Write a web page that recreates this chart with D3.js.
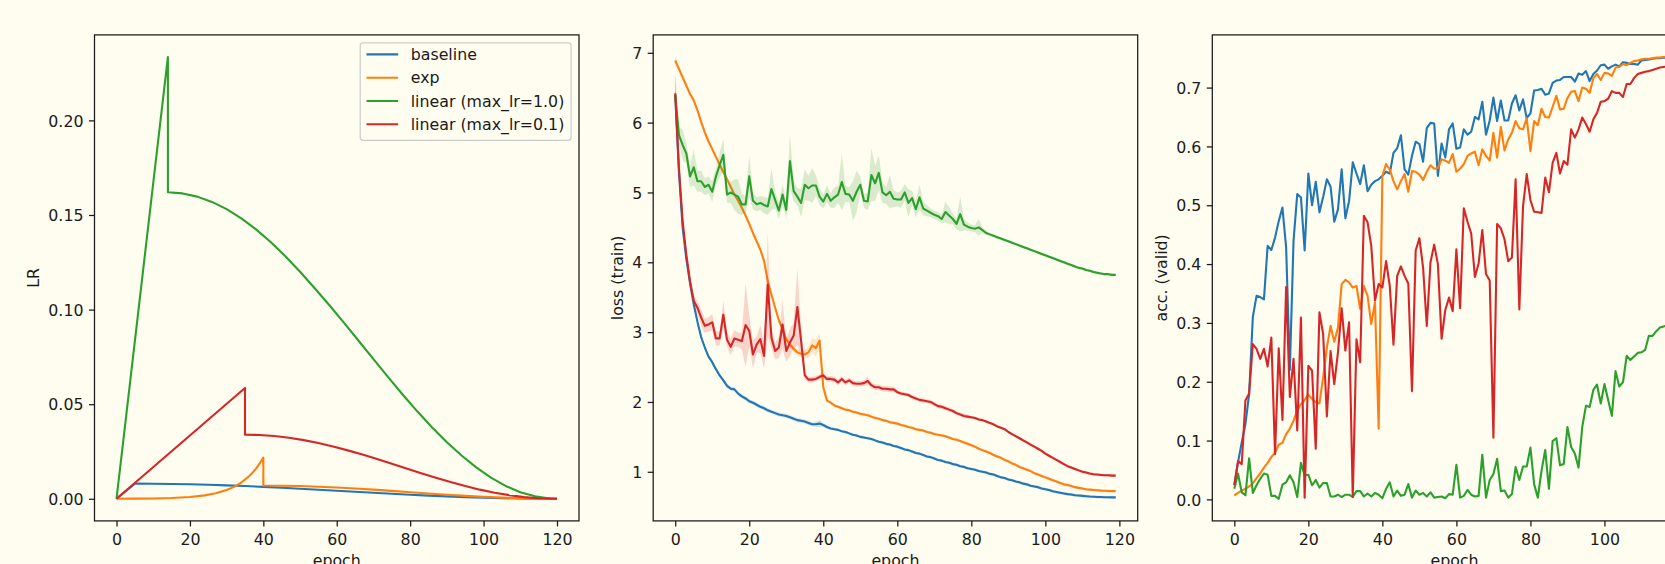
<!DOCTYPE html>
<html>
<head>
<meta charset="utf-8">
<script src="https://cdn.jsdelivr.net/npm/d3@7"></script>
<style>
  html, body { margin: 0; padding: 0; background: #fffcf0; }
  svg { display: block; }
</style>
</head>
<body>
<svg id="fig" width="1665" height="564"></svg>
<script>
// ---------------- data ----------------
const seriesNames  = ["baseline", "exp", "linear (max_lr=1.0)", "linear (max_lr=0.1)"];
const seriesColors = ["#1f77b4", "#ff7f0e", "#2ca02c", "#d62728"];

const xTickValues    = [0, 20, 40, 60, 80, 100, 120];
const lrTickValues   = [0.00, 0.05, 0.10, 0.15, 0.20];
const lossTickValues = [1, 2, 3, 4, 5, 6, 7];
const accTickValues  = [0.0, 0.1, 0.2, 0.3, 0.4, 0.5, 0.6, 0.7];

// learning-rate schedules (epoch, lr)
const lrBaselineEpochs = [0,5,10,15,20,25,30,35,40,45,50,55,60,65,70,75,80,85,90,95,100,105,110,115,120];
const lrBaseline = [0,0.0080,0.00796,0.00785,0.00767,0.00742,0.00710,0.00673,0.00631,0.00584,0.00534,0.00481,0.00427,0.00373,0.00319,0.00266,0.00216,0.00169,0.00127,0.00090,0.00058,0.00033,0.00015,0.00004,0];

const lrExpEpochs = [0,5,10,15,20,24,27,30,32,34,36,37,38,39,40,40,45,50,55,60,65,70,75,80,85,90,95,100,105,110,115,120];
const lrExp = [0,0.0001,0.0002,0.00045,0.00098,0.00183,0.00291,0.00463,0.00631,0.0086,0.01173,0.01369,0.01599,0.01867,0.0218,0.0070,0.00689,0.00673,0.00641,0.00597,0.00543,0.00484,0.00419,0.0035,0.00283,0.00216,0.00156,0.00103,0.00061,0.00027,0.00009,0];

const lrLinear1Epochs = [0,14,14,18,22,26,30,34,38,42,46,50,54,58,62,66,70,74,78,82,86,90,94,98,102,106,110,114,118,120];
const lrLinear1 = [0,0.2335,0.1620,0.1614,0.1597,0.1569,0.1531,0.1482,0.1424,0.1357,0.1282,0.1200,0.1113,0.1023,0.0930,0.0834,0.0738,0.0643,0.0550,0.0461,0.0377,0.0299,0.0229,0.0166,0.0112,0.0068,0.0035,0.0013,0.0001,0];

const lrLinear01Epochs = [0,35,35,39,43,47,51,55,59,63,67,71,75,79,83,87,91,95,99,103,107,111,115,120];
const lrLinear01 = [0,0.0586,0.0339,0.03372,0.03316,0.03226,0.03102,0.02948,0.02766,0.02560,0.02336,0.02098,0.01851,0.01601,0.01353,0.01112,0.00883,0.00673,0.00484,0.00323,0.00193,0.00091,0.00029,0];

// training loss per epoch (mean over runs) and its spread
const lossBaseline = [
  6.40,5.30,4.50,4.05,3.70,3.40,3.15,2.93,2.78,2.65,
  2.57,2.47,2.38,2.31,2.23,2.19,2.18,2.12,2.08,2.05,
  2.01,1.99,1.96,1.93,1.91,1.88,1.86,1.84,1.82,1.81,
  1.80,1.78,1.76,1.74,1.73,1.72,1.70,1.68,1.68,1.69,
  1.67,1.64,1.62,1.61,1.60,1.58,1.57,1.55,1.53,1.52,
  1.50,1.49,1.48,1.47,1.45,1.43,1.42,1.40,1.39,1.37,
  1.36,1.34,1.32,1.31,1.29,1.27,1.26,1.24,1.22,1.21,
  1.19,1.17,1.16,1.14,1.13,1.11,1.10,1.08,1.07,1.05,
  1.04,1.03,1.01,1.00,0.99,0.97,0.96,0.94,0.92,0.91,
  0.89,0.88,0.86,0.85,0.83,0.82,0.80,0.79,0.78,0.76,
  0.75,0.74,0.72,0.71,0.70,0.69,0.68,0.675,0.665,0.66,
  0.655,0.65,0.645,0.643,0.64,0.638,0.636,0.635,0.634,0.633
];
const lossExp = [
  6.89,6.77,6.65,6.53,6.41,6.32,6.18,6.01,5.86,5.73,
  5.62,5.51,5.40,5.29,5.19,5.08,4.97,4.88,4.78,4.67,
  4.55,4.42,4.30,4.18,4.02,3.73,3.54,3.35,3.17,3.04,
  2.90,2.82,2.76,2.71,2.69,2.68,2.71,2.81,2.77,2.88,
  2.21,2.02,1.99,1.95,1.93,1.91,1.89,1.88,1.86,1.85,
  1.83,1.82,1.81,1.79,1.77,1.76,1.74,1.73,1.71,1.70,
  1.69,1.67,1.66,1.64,1.63,1.61,1.60,1.59,1.57,1.56,
  1.54,1.53,1.52,1.51,1.49,1.47,1.46,1.44,1.42,1.40,
  1.38,1.36,1.33,1.31,1.29,1.27,1.24,1.22,1.20,1.17,
  1.15,1.12,1.10,1.07,1.05,1.03,1.01,0.98,0.96,0.94,
  0.92,0.90,0.88,0.86,0.84,0.82,0.81,0.795,0.78,0.77,
  0.76,0.75,0.745,0.74,0.735,0.73,0.728,0.725,0.724,0.723
];
const lossLinear1 = [
  6.40,5.82,5.68,5.56,5.23,5.36,5.16,5.16,5.08,5.11,
  5.01,5.23,5.39,5.54,4.97,5.00,4.97,4.94,4.83,4.83,
  5.23,4.88,4.83,4.85,4.82,4.80,5.05,4.89,4.74,4.97,
  4.75,5.45,5.02,4.94,4.85,5.11,5.06,5.10,5.10,4.94,
  4.87,4.98,4.88,4.93,4.97,5.15,4.98,4.97,4.88,5.01,
  5.11,4.88,4.87,5.25,5.13,5.28,5.00,4.96,5.01,4.91,
  4.90,4.90,5.00,4.85,4.92,4.76,4.93,4.77,4.74,4.71,
  4.68,4.66,4.62,4.72,4.67,4.62,4.55,4.69,4.54,4.51,
  4.49,4.48,4.50,4.46,4.42,4.40,4.38,4.36,4.34,4.32,
  4.30,4.28,4.26,4.24,4.22,4.20,4.18,4.16,4.14,4.12,
  4.10,4.08,4.06,4.04,4.02,4.00,3.98,3.96,3.94,3.92,
  3.91,3.89,3.88,3.86,3.85,3.84,3.83,3.83,3.82,3.82
];
const lossLinear01 = [
  6.42,5.35,4.59,4.11,3.73,3.45,3.35,3.21,3.09,3.11,
  3.14,2.91,2.91,3.25,2.89,2.79,2.91,2.89,2.87,3.10,
  3.02,2.68,2.82,2.90,2.66,3.68,2.92,2.73,2.78,3.11,
  2.73,2.85,2.95,3.36,2.88,2.38,2.32,2.32,2.33,2.36,
  2.38,2.33,2.33,2.32,2.28,2.33,2.28,2.31,2.27,2.26,
  2.26,2.27,2.30,2.24,2.21,2.21,2.19,2.19,2.18,2.18,
  2.14,2.12,2.11,2.10,2.07,2.05,2.03,2.02,2.01,2.00,
  1.97,1.94,1.93,1.91,1.89,1.87,1.84,1.82,1.80,1.79,
  1.78,1.77,1.75,1.74,1.72,1.70,1.68,1.65,1.63,1.61,
  1.57,1.54,1.51,1.48,1.45,1.42,1.39,1.36,1.33,1.30,
  1.26,1.23,1.20,1.17,1.14,1.11,1.08,1.06,1.04,1.02,
  1.00,0.99,0.975,0.965,0.96,0.955,0.95,0.95,0.945,0.945
];

const lossStdBaseline = [
  0.30,0.15,0.08,0.05,0.04,0.04,0.04,0.04,0.03,0.03,
  0.03,0.03,0.03,0.03,0.03,0.03,0.03,0.03,0.03,0.03,
  0.03,0.03,0.03,0.03,0.03,0.03,0.03,0.03,0.03,0.03,
  0.03,0.03,0.03,0.03,0.03,0.03,0.03,0.03,0.04,0.05,
  0.03,0.03,0.02,0.02,0.02,0.02,0.02,0.02,0.02,0.02,
  0.02,0.02,0.02,0.02,0.02,0.02,0.02,0.02,0.02,0.02,
  0.02,0.02,0.02,0.02,0.02,0.02,0.02,0.02,0.02,0.02,
  0.02,0.02,0.02,0.02,0.02,0.02,0.02,0.02,0.02,0.02,
  0.02,0.02,0.02,0.02,0.02,0.02,0.02,0.02,0.02,0.02,
  0.02,0.02,0.02,0.02,0.02,0.02,0.02,0.02,0.02,0.02,
  0.02,0.02,0.02,0.02,0.02,0.02,0.02,0.02,0.02,0.02,
  0.02,0.02,0.02,0.02,0.02,0.02,0.02,0.02,0.02,0.02
];
const lossStdExp = [
  0.05,0.03,0.03,0.03,0.03,0.03,0.03,0.03,0.03,0.03,
  0.03,0.03,0.03,0.03,0.03,0.03,0.03,0.03,0.03,0.03,
  0.03,0.03,0.03,0.03,0.03,0.03,0.03,0.03,0.03,0.03,
  0.03,0.03,0.04,0.04,0.05,0.06,0.08,0.10,0.12,0.10,
  0.08,0.03,0.02,0.02,0.02,0.02,0.02,0.02,0.02,0.02,
  0.02,0.02,0.02,0.02,0.02,0.02,0.02,0.02,0.02,0.02,
  0.02,0.02,0.02,0.02,0.02,0.02,0.02,0.02,0.02,0.02,
  0.02,0.02,0.02,0.02,0.02,0.02,0.02,0.02,0.02,0.02,
  0.02,0.02,0.02,0.02,0.02,0.02,0.02,0.02,0.02,0.02,
  0.02,0.02,0.02,0.02,0.02,0.02,0.02,0.02,0.02,0.02,
  0.02,0.02,0.02,0.02,0.02,0.02,0.02,0.02,0.02,0.02,
  0.02,0.02,0.02,0.02,0.02,0.02,0.02,0.02,0.02,0.02
];
const lossStdLinear1 = [
  0.30,0.12,0.22,0.15,0.15,0.26,0.15,0.15,0.12,0.12,
  0.15,0.12,0.18,0.23,0.12,0.15,0.22,0.25,0.15,0.12,
  0.30,0.12,0.10,0.10,0.12,0.12,0.30,0.12,0.12,0.15,
  0.12,0.38,0.15,0.12,0.20,0.22,0.18,0.25,0.15,0.12,
  0.10,0.12,0.10,0.15,0.12,0.40,0.12,0.10,0.28,0.30,
  0.12,0.10,0.12,0.38,0.25,0.25,0.15,0.12,0.24,0.12,
  0.10,0.12,0.12,0.20,0.10,0.12,0.18,0.10,0.08,0.06,
  0.06,0.06,0.06,0.15,0.12,0.08,0.08,0.25,0.08,0.06,
  0.05,0.05,0.12,0.04,0.03,0.02,0.02,0.02,0.02,0.02,
  0.02,0.02,0.02,0.02,0.02,0.02,0.02,0.02,0.02,0.02,
  0.02,0.02,0.02,0.02,0.02,0.02,0.02,0.02,0.02,0.02,
  0.02,0.02,0.02,0.02,0.02,0.02,0.02,0.02,0.02,0.02
];
const lossStdLinear01 = [
  0.30,0.15,0.08,0.06,0.06,0.08,0.10,0.12,0.10,0.10,
  0.12,0.10,0.10,0.20,0.10,0.12,0.12,0.10,0.12,0.60,
  0.22,0.20,0.12,0.20,0.18,0.75,0.15,0.12,0.15,0.35,
  0.15,0.20,0.18,0.55,0.20,0.06,0.04,0.04,0.04,0.04,
  0.04,0.04,0.04,0.04,0.04,0.04,0.04,0.04,0.04,0.04,
  0.04,0.04,0.06,0.04,0.04,0.04,0.04,0.04,0.04,0.04,
  0.03,0.03,0.03,0.03,0.03,0.03,0.03,0.03,0.03,0.03,
  0.03,0.03,0.03,0.03,0.03,0.03,0.03,0.03,0.03,0.03,
  0.02,0.02,0.02,0.02,0.02,0.02,0.02,0.02,0.02,0.02,
  0.02,0.02,0.02,0.02,0.02,0.02,0.02,0.02,0.02,0.02,
  0.02,0.02,0.02,0.02,0.02,0.02,0.02,0.02,0.02,0.02,
  0.02,0.02,0.02,0.02,0.02,0.02,0.02,0.02,0.02,0.02
];

// validation accuracy per epoch
const accBaseline = [
  0.024,0.063,0.097,0.128,0.179,0.310,0.346,0.344,0.340,0.431,
  0.424,0.445,0.473,0.496,0.428,0.220,0.440,0.519,0.513,0.423,
  0.554,0.500,0.540,0.488,0.514,0.544,0.532,0.472,0.493,0.561,
  0.478,0.507,0.573,0.554,0.536,0.568,0.524,0.535,0.541,0.544,
  0.550,0.557,0.554,0.589,0.597,0.619,0.561,0.552,0.584,0.608,
  0.604,0.574,0.631,0.640,0.639,0.550,0.605,0.581,0.629,0.639,
  0.596,0.598,0.629,0.620,0.625,0.650,0.646,0.676,0.620,0.644,
  0.683,0.643,0.678,0.644,0.644,0.673,0.687,0.661,0.680,0.648,
  0.656,0.695,0.696,0.698,0.688,0.690,0.708,0.712,0.713,0.718,
  0.718,0.718,0.710,0.724,0.722,0.728,0.711,0.723,0.729,0.738,
  0.739,0.732,0.736,0.739,0.736,0.743,0.742,0.740,0.740,0.739,
  0.746,0.747,0.748,0.749,0.750,0.750,0.751,0.751,0.752,0.752
];
const accExp = [
  0.007,0.011,0.015,0.018,0.022,0.027,0.036,0.044,0.054,0.062,
  0.072,0.079,0.093,0.096,0.111,0.120,0.134,0.151,0.162,0.169,
  0.178,0.171,0.165,0.163,0.208,0.258,0.295,0.268,0.292,0.366,
  0.373,0.369,0.360,0.363,0.324,0.363,0.346,0.298,0.335,0.120,
  0.550,0.570,0.561,0.541,0.527,0.541,0.553,0.523,0.558,0.557,
  0.552,0.543,0.557,0.568,0.562,0.563,0.578,0.576,0.572,0.587,
  0.557,0.562,0.570,0.584,0.588,0.591,0.568,0.595,0.584,0.576,
  0.623,0.581,0.633,0.593,0.612,0.623,0.643,0.631,0.629,0.648,
  0.592,0.643,0.636,0.664,0.650,0.649,0.667,0.686,0.663,0.664,
  0.682,0.693,0.694,0.677,0.700,0.698,0.691,0.716,0.723,0.713,
  0.725,0.724,0.720,0.734,0.735,0.740,0.738,0.742,0.745,0.746,
  0.748,0.749,0.749,0.750,0.751,0.751,0.752,0.752,0.752,0.752
];
const accLinear1 = [
  0.018,0.044,0.012,0.007,0.070,0.011,0.024,0.035,0.044,0.042,
  0.006,0.006,0.001,0.025,0.029,0.041,0.029,0.004,0.062,0.041,
  0.042,0.024,0.033,0.020,0.028,0.028,0.005,0.005,0.008,0.004,
  0.008,0.008,0.004,0.014,0.014,0.005,0.010,0.005,0.011,0.008,
  0.002,0.018,0.029,0.005,0.015,0.006,0.008,0.026,0.003,0.015,
  0.008,0.011,0.005,0.012,0.003,0.004,0.005,0.002,0.009,0.008,
  0.059,0.003,0.006,0.016,0.008,0.005,0.006,0.076,0.003,0.033,
  0.043,0.069,0.014,0.015,0.003,0.009,0.055,0.033,0.056,0.056,
  0.088,0.026,0.003,0.049,0.084,0.018,0.099,0.104,0.058,0.060,
  0.123,0.089,0.078,0.054,0.123,0.159,0.157,0.186,0.195,0.163,
  0.196,0.169,0.142,0.218,0.192,0.199,0.244,0.237,0.243,0.249,
  0.250,0.254,0.278,0.278,0.286,0.292,0.294,0.296,0.297,0.298
];
const accLinear01 = [
  0.024,0.065,0.060,0.168,0.180,0.264,0.256,0.239,0.256,0.226,
  0.275,0.077,0.257,0.135,0.361,0.174,0.239,0.117,0.309,0.003,
  0.227,0.219,0.086,0.318,0.281,0.141,0.252,0.196,0.250,0.325,
  0.253,0.301,0.004,0.272,0.233,0.482,0.471,0.431,0.338,0.366,
  0.360,0.405,0.363,0.263,0.380,0.396,0.380,0.367,0.184,0.423,
  0.444,0.394,0.295,0.403,0.433,0.400,0.273,0.322,0.343,0.320,
  0.425,0.325,0.495,0.472,0.452,0.378,0.401,0.458,0.383,0.372,
  0.105,0.468,0.461,0.442,0.405,0.411,0.544,0.323,0.498,0.553,
  0.509,0.489,0.488,0.487,0.547,0.522,0.572,0.589,0.554,0.575,
  0.569,0.629,0.615,0.629,0.649,0.638,0.625,0.646,0.657,0.676,
  0.677,0.681,0.694,0.691,0.691,0.684,0.706,0.706,0.716,0.723,
  0.725,0.727,0.728,0.730,0.732,0.734,0.735,0.736,0.737,0.738
];

// ---------------- layout ----------------
const W = 1665, H = 564;
const BG = "#fffcf0";
const INK = "#1a1a1a";
const FAMILY = "'DejaVu Sans', sans-serif";
const FONT = 15.8;
const AX_TOP = 34.9, AX_H = 486, AX_W = 484.5;
const AX_LEFT = [94.5, 653.2, 1212.3];
const TICK = 5.5, PAD = 5.5, SPINE_W = 1.26, LINE_W = 2.1;

const svg = d3.select("#fig");
svg.append("rect").attr("width", W).attr("height", H).attr("fill", BG);
const defs = svg.append("defs");

// matplotlib-style 5% margins around the data range
function padded(lo, hi) { const m = (hi - lo) * 0.05; return [lo - m, hi + m]; }

function makePanel(i, xExtent, yExtent, yTicks, yFormat, yLabel) {
  const left = AX_LEFT[i], bottom = AX_TOP + AX_H;
  const x = d3.scaleLinear().domain(padded(...xExtent)).range([left, left + AX_W]);
  const y = d3.scaleLinear().domain(padded(...yExtent)).range([bottom, AX_TOP]);

  const g = svg.append("g");
  defs.append("clipPath").attr("id", "clip" + i)
    .append("rect").attr("x", left).attr("y", AX_TOP).attr("width", AX_W).attr("height", AX_H);
  const plot = g.append("g").attr("clip-path", `url(#clip${i})`);

  // x axis
  const gx = g.append("g").attr("transform", `translate(0,${bottom})`)
    .call(d3.axisBottom(x).tickValues(xTickValues).tickSize(TICK).tickPadding(PAD)
      .tickSizeOuter(0).tickFormat(d3.format("d")));
  // y axis
  const gy = g.append("g").attr("transform", `translate(${left},0)`)
    .call(d3.axisLeft(y).tickValues(yTicks).tickSize(TICK).tickPadding(PAD)
      .tickSizeOuter(0).tickFormat(d3.format(yFormat)));

  [gx, gy].forEach(a => {
    a.attr("font-size", null).attr("font-family", null);
    a.select(".domain").remove();
    a.selectAll(".tick line").attr("stroke", INK).attr("stroke-width", SPINE_W);
    a.selectAll(".tick text").attr("fill", INK)
      .style("font-family", FAMILY).style("font-size", FONT + "px");
  });
  gx.selectAll(".tick text").attr("dy", 13.1);
  gy.selectAll(".tick text").attr("dy", "0.36em");

  // frame
  g.append("rect").attr("x", left).attr("y", AX_TOP).attr("width", AX_W).attr("height", AX_H)
    .attr("fill", "none").attr("stroke", INK).attr("stroke-width", SPINE_W);

  // axis labels
  g.append("text").attr("x", left + AX_W / 2).attr("y", bottom + 45)
    .attr("text-anchor", "middle").attr("fill", INK)
    .style("font-family", FAMILY).style("font-size", FONT + "px").text("epoch");

  const maxW = d3.max(gy.selectAll(".tick text").nodes(), n => n.getComputedTextLength());
  const lx = left - TICK - PAD - maxW - 9.5;
  g.append("text").attr("transform", `translate(${lx},${AX_TOP + AX_H / 2}) rotate(-90)`)
    .attr("text-anchor", "middle").attr("fill", INK)
    .style("font-family", FAMILY).style("font-size", FONT + "px").text(yLabel);

  return { x, y, plot, g, left };
}

// ---------------- panel 1: learning rate ----------------
const lrSeries = [
  [lrBaselineEpochs, lrBaseline],
  [lrExpEpochs, lrExp],
  [lrLinear1Epochs, lrLinear1],
  [lrLinear01Epochs, lrLinear01]
].map(([e, v]) => e.map((ep, k) => [ep, v[k]]));

const lrAll = lrSeries.flat();
const p1 = makePanel(0, d3.extent(lrAll, d => d[0]), d3.extent(lrAll, d => d[1]),
  lrTickValues, ".2f", "LR");
const lrLine = d3.line().x(d => p1.x(d[0])).y(d => p1.y(d[1]));
lrSeries.forEach((pts, k) => {
  p1.plot.append("path").attr("d", lrLine(pts)).attr("fill", "none")
    .attr("stroke", seriesColors[k]).attr("stroke-width", LINE_W)
    .attr("stroke-linejoin", "round");
});

// legend
{
  const lg = p1.g.append("g");
  const rowH = 23.3;
  const texts = seriesNames.map((name, k) => lg.append("text")
    .attr("fill", INK).style("font-family", FAMILY).style("font-size", FONT + "px").text(name));
  const maxTextW = d3.max(texts, t => t.node().getComputedTextLength());
  const boxW = 6.3 + 31.6 + 12.6 + maxTextW + 6.8;
  const boxH = 97.5;
  const right = p1.left + AX_W - 7.9, top = AX_TOP + 7.9;
  const bx = right - boxW;
  lg.insert("rect", "text").attr("x", bx).attr("y", top).attr("width", boxW).attr("height", boxH)
    .attr("rx", 3).attr("fill", BG).attr("fill-opacity", 0.8)
    .attr("stroke", "#cccccc").attr("stroke-width", 1.2);
  seriesNames.forEach((name, k) => {
    const cy = top + 11.6 + k * rowH;
    lg.append("line").attr("x1", bx + 6.3).attr("x2", bx + 6.3 + 31.6)
      .attr("y1", cy).attr("y2", cy)
      .attr("stroke", seriesColors[k]).attr("stroke-width", LINE_W);
    texts[k].attr("x", bx + 6.3 + 31.6 + 12.6).attr("y", cy).attr("dy", "0.36em");
  });
}

// ---------------- panel 2: training loss ----------------
const epochs = d3.range(lossBaseline.length);
const lossMeans = [lossBaseline, lossExp, lossLinear1, lossLinear01];
const lossStds  = [lossStdBaseline, lossStdExp, lossStdLinear1, lossStdLinear01];
const lossLo = d3.min(lossMeans.map((m, k) => d3.min(m, (v, j) => v - lossStds[k][j])));
const lossHi = d3.max(lossMeans.map((m, k) => d3.max(m, (v, j) => v + lossStds[k][j])));
const p2 = makePanel(1, d3.extent(epochs), [lossLo, lossHi], lossTickValues, "d", "loss (train)");
lossMeans.forEach((m, k) => {
  const band = d3.area().x((d, j) => p2.x(epochs[j]))
    .y0((d, j) => p2.y(d - lossStds[k][j])).y1((d, j) => p2.y(d + lossStds[k][j]));
  p2.plot.append("path").attr("d", band(m)).attr("fill", seriesColors[k]).attr("fill-opacity", 0.18);
  const line = d3.line().x((d, j) => p2.x(epochs[j])).y(d => p2.y(d));
  p2.plot.append("path").attr("d", line(m)).attr("fill", "none")
    .attr("stroke", seriesColors[k]).attr("stroke-width", LINE_W).attr("stroke-linejoin", "round");
});

// ---------------- panel 3: validation accuracy ----------------
const accSeries = [accBaseline, accExp, accLinear1, accLinear01];
const p3 = makePanel(2, d3.extent(epochs),
  [d3.min(accSeries, s => d3.min(s)), d3.max(accSeries, s => d3.max(s))],
  accTickValues, ".1f", "acc. (valid)");
accSeries.forEach((s, k) => {
  const line = d3.line().x((d, j) => p3.x(epochs[j])).y(d => p3.y(d));
  p3.plot.append("path").attr("d", line(s)).attr("fill", "none")
    .attr("stroke", seriesColors[k]).attr("stroke-width", LINE_W).attr("stroke-linejoin", "round");
});
</script>
</body>
</html>
